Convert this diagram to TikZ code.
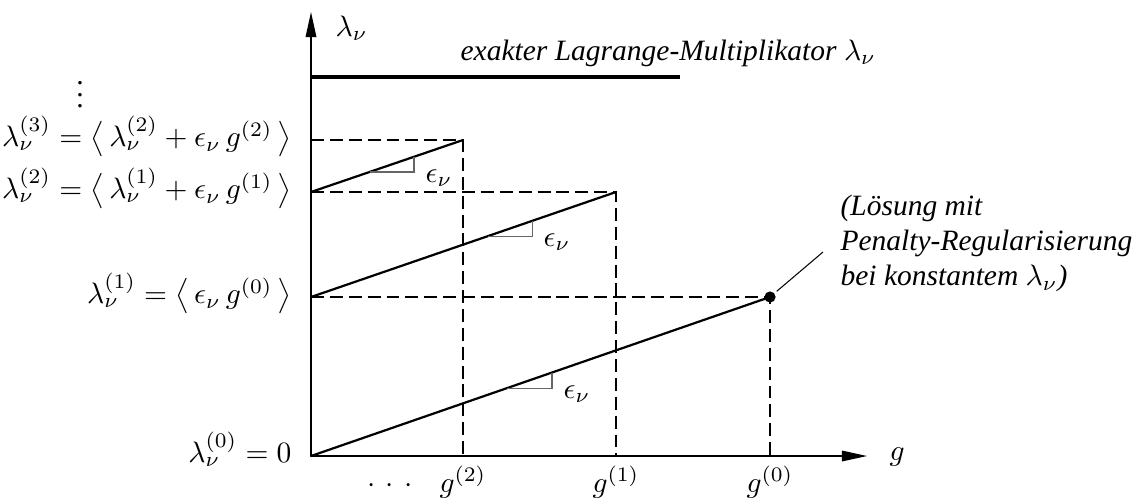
\documentclass[tikz,border=0pt]{standalone}
\usepackage{amsmath}
\usepackage[no-math]{fontspec}
\setmainfont{Liberation Serif}
\usetikzlibrary{arrows.meta,positioning,calc}
\tikzset{
  axisln/.style={-{Triangle[length=8.5pt,width=3.6pt]}, line width=0.45pt},
  rampln/.style={line width=0.75pt, line cap=round},
  exactln/.style={line width=1.4pt},
  projln/.style={dash pattern=on 4.4pt off 2pt, line width=0.4pt},
  slopeln/.style={line width=0.4pt, black!60},
  leader/.style={line width=0.35pt, shorten <=3pt},
  lamlab/.style={anchor=mid east, inner sep=0pt},
  glab/.style={anchor=base, inner sep=0pt},
  epslab/.style={anchor=west, inner sep=0pt},
  note/.style={font=\itshape, inner sep=0pt},
}
% slope triangle under a ramp: start, end, t of vertical leg, t of left corner
\newcommand{\slopetri}[4]{%
  \draw[slopeln] ($(#1)!#3!(#2)$) |- ($(#1)!#4!(#2)$);
}

\begin{document}
\begin{tikzpicture}[x=0.339pt, y=-0.339pt, font=\fontsize{10}{12}\selectfont]
    \useasboundingbox (0,0) rectangle (1136,497);
    \coordinate (O) at (311,456);
    \coordinate (ytip) at (311,12);
    \coordinate (xtip) at (867,456);
    \coordinate (l1) at (311,297);
    \coordinate (l2) at (311,192);
    \coordinate (l3) at (311,140);
    \coordinate (p0) at (770,297);
    \coordinate (p1) at (616,192);
    \coordinate (p2) at (463,140);
    \coordinate (g0) at (770,456);
    \coordinate (g1) at (616,456);
    \coordinate (g2) at (463,456);
    \coordinate (top0) at (311,77);
    \coordinate (top1) at (680,77);
    \coordinate (solpt) at (823,252);
    % projections
    \draw[projln] (l1) -- (p0) -- (g0);
    \draw[projln] (l2) -- (p1) -- (g1);
    \draw[projln] (l3) -- (p2) -- (g2);
    % axes
    \draw[axisln] (O) -- (ytip);
    \draw[axisln] (O) -- (xtip);
    % exact multiplier
    \draw[exactln] (top0) -- (top1);
    % penalty ramps
    \draw[rampln] (O) -- (p0);
    \draw[rampln] (l1) -- (p1);
    \draw[rampln] (l2) -- (p2);
    \slopetri{O}{p0}{0.525}{0.427}
    \slopetri{l1}{p1}{0.725}{0.58}
    \slopetri{l2}{p2}{0.678}{0.385}
    \node[epslab] (eps0) at (563,394) {$\epsilon_\nu$};
    \node[epslab] (eps1) at (543,242) {$\epsilon_\nu$};
    \node[epslab] (eps2) at (425,178) {$\epsilon_\nu$};
    \fill (p0) circle (1.9pt);
    \draw[leader] (p0) -- (solpt);
    % labels
    \node[anchor=base west, inner sep=0pt] (ylab) at (335,36) {$\lambda_\nu$};
    \node[anchor=base west, inner sep=0pt] (xlab) at (889,460) {$g$};
    \node[note, anchor=base west] (exact) at (460,60) {exakter Lagrange-Multiplikator $\lambda_\nu$};
    \node[note, anchor=north west, align=left] (sol) at (840,194)
      {(Lösung mit\\Penalty-Regularisierung\\bei konstantem $\lambda_\nu$)};
    \node[inner sep=0pt] (vdot) at (80,86) {$\vdots$};
    \node[lamlab] (lab3) at (292,140)
      {$\lambda_\nu^{(3)} = \big\langle\, \lambda_\nu^{(2)} + \epsilon_\nu\, g^{(2)} \,\big\rangle$};
    \node[lamlab] (lab2) at (292,192)
      {$\lambda_\nu^{(2)} = \big\langle\, \lambda_\nu^{(1)} + \epsilon_\nu\, g^{(1)} \,\big\rangle$};
    \node[lamlab] (lab1) at (292,297)
      {$\lambda_\nu^{(1)} = \big\langle\, \epsilon_\nu\, g^{(0)} \,\big\rangle$};
    \node[lamlab] (lab0) at (292,456) {$\lambda_\nu^{(0)} = 0$};
    \node[glab] (glab2) at (463,492) {$g^{(2)}$};
    \node[glab] (glab1) at (616,492) {$g^{(1)}$};
    \node[glab] (glab0) at (770,492) {$g^{(0)}$};
    \node[glab] (gdots) at (390,492) {${\cdot}\hspace{0.35em}{\cdot}\hspace{0.35em}{\cdot}$};
  \end{tikzpicture}
\end{document}
